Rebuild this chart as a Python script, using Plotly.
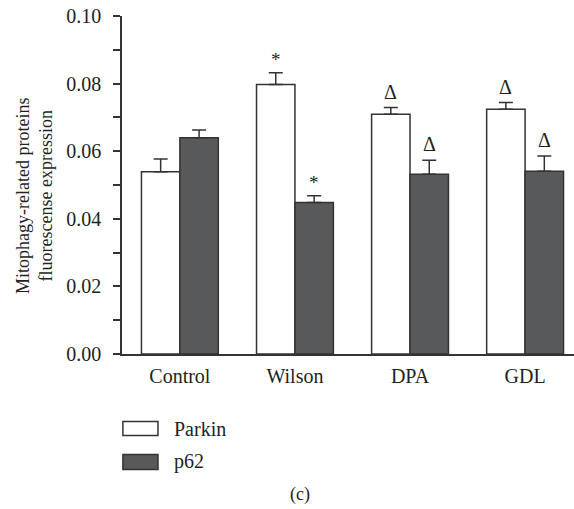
import plotly.graph_objects as go

categories = ["Control", "Wilson", "DPA", "GDL"]
series_names = ["Parkin", "p62"]
parkin_values = [0.0539, 0.0797, 0.0709, 0.0724]
parkin_errors = [0.0038, 0.0035, 0.0020, 0.0020]
p62_values = [0.0640, 0.0448, 0.0532, 0.0541]
p62_errors = [0.0023, 0.0020, 0.0041, 0.0045]
parkin_marks = ["", "*", "Δ", "Δ"]
p62_marks = ["", "*", "Δ", "Δ"]
y_tick_values = [0.00, 0.02, 0.04, 0.06, 0.08, 0.10]
y_title = "Mitophagy-related proteins<br>fluorescense expression"
panel_label = "(c)"

FONT = "Liberation Serif, Times New Roman, serif"
TXT = "#231f20"
LINE = "#333333"
FILLS = ["#ffffff", "#58595b"]
BARGAP = 0.332
bar_w = (1 - BARGAP) / 2

fig = go.Figure()
for name, vals, errs, fill in [
    (series_names[0], parkin_values, parkin_errors, FILLS[0]),
    (series_names[1], p62_values, p62_errors, FILLS[1]),
]:
    fig.add_trace(go.Bar(
        x=categories, y=vals, name=name, offsetgroup=name,
        marker=dict(color=fill, line=dict(color=LINE, width=1.5)),
        error_y=dict(type="data", array=errs, arrayminus=[0] * len(errs),
                     symmetric=False, color=LINE, thickness=1.5, width=7),
        showlegend=False,
    ))

annotations = []
for i in range(len(categories)):
    for marks, vals, errs, off in [
        (parkin_marks, parkin_values, parkin_errors, -bar_w / 2),
        (p62_marks, p62_values, p62_errors, bar_w / 2),
    ]:
        if marks[i]:
            annotations.append(dict(
                x=i + off, y=vals[i] + errs[i], xref="x", yref="y",
                text=marks[i], showarrow=False, yanchor="bottom",
                yshift=3 if marks[i] == "Δ" else 1,
                font=dict(family=FONT, size=20 if marks[i] == "Δ" else 19, color=TXT),
            ))

# y-axis title
annotations.append(dict(
    x=-0.1925, y=0.4675, xref="paper", yref="paper", text=y_title,
    textangle=-90, showarrow=False, xanchor="center", yanchor="middle",
    font=dict(family=FONT, size=18, color=TXT),
))

# custom legend
shapes = []
leg_y = [(-0.2, -0.2413, -0.2206), (-0.2974, -0.3417, -0.3195)]
for name, fill, (y0, y1, yc) in zip(series_names, FILLS, leg_y):
    shapes.append(dict(type="rect", xref="paper", yref="paper",
                       x0=0.002, x1=0.0796, y0=y0, y1=y1,
                       fillcolor=fill, line=dict(color=LINE, width=1.5)))
    annotations.append(dict(x=0.1106, y=yc, xref="paper", yref="paper",
                            text=name, showarrow=False, xanchor="left",
                            yanchor="middle",
                            font=dict(family=FONT, size=20, color=TXT)))

annotations.append(dict(x=0.394, y=-0.4155, xref="paper", yref="paper",
                        text=panel_label, showarrow=False, xanchor="center",
                        yanchor="middle",
                        font=dict(family=FONT, size=18, color=TXT)))

fig.update_layout(
    width=574, height=509,
    margin=dict(l=122, r=0, t=16, b=155),
    paper_bgcolor="white", plot_bgcolor="white",
    barmode="group", bargap=BARGAP, bargroupgap=0,
    font=dict(family=FONT, size=20, color=TXT),
    annotations=annotations, shapes=shapes,
    showlegend=False,
)
fig.update_xaxes(
    range=[-0.503, 3.425], showline=True, linecolor=LINE, linewidth=1.5,
    ticks="", showgrid=False, zeroline=False, ticklabelstandoff=3,
    tickfont=dict(family=FONT, size=20, color=TXT),
)
fig.update_yaxes(
    range=[0, 0.1], tickvals=y_tick_values, tickformat=".2f",
    showline=True, linecolor=LINE, linewidth=1.5, ticks="outside",
    ticklen=7, tickwidth=1.5, tickcolor=LINE, showgrid=False, zeroline=False,
    minor=dict(dtick=0.01, ticks="outside", ticklen=7, tickwidth=1.5,
               tickcolor=LINE, showgrid=False),
    ticklabelstandoff=8,
    tickfont=dict(family=FONT, size=20, color=TXT),
)

fig.write_html("out.html")
